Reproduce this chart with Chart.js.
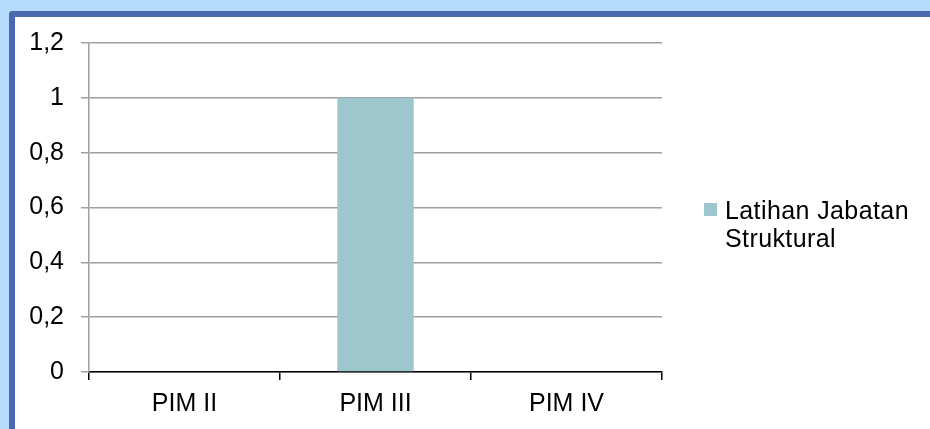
<!DOCTYPE html>
<html>
<head>
<meta charset="utf-8">
<script src="https://cdn.jsdelivr.net/npm/chart.js@4.4.0/dist/chart.umd.min.js"></script>
<style>
  html, body { margin: 0; padding: 0; }
  body { width: 930px; height: 429px; overflow: hidden; position: relative; background: #b5dcfc; font-family: "Liberation Sans", Arial, sans-serif; }
  #frame { position: absolute; left: 9px; top: 11px; width: 940px; height: 440px; background: #ffffff;
           border-left: 6px solid #4b68b1; border-top: 6px solid #4b68b1; border-top-left-radius: 4px; }
  #wrap { position: absolute; left: 0; top: 0; width: 930px; height: 429px; }
  #legend { position: absolute; left: 704px; top: 196px; width: 224px; color: #000; }
  .item { position: relative; padding-left: 21px; font-size: 25px; line-height: 28px; letter-spacing: 0.4px; }
  .sw { position: absolute; left: 0; top: 7px; width: 13px; height: 13px; }
</style>
</head>
<body>
<div id="frame"></div>
<div id="wrap"><canvas id="c" width="930" height="429"></canvas></div>
<div id="legend"></div>
<script>
const categories = ['PIM II', 'PIM III', 'PIM IV'];
const seriesLabel = 'Latihan Jabatan Struktural';
const seriesValues = [0, 1, 0];
const yTickLabels = ['0', '0,2', '0,4', '0,6', '0,8', '1', '1,2'];
const barColor = '#9dc6cd';

const chart = new Chart(document.getElementById('c'), {
  type: 'bar',
  data: {
    labels: categories,
    datasets: [{
      label: seriesLabel,
      data: seriesValues,
      backgroundColor: barColor,
      borderWidth: 0,
      categoryPercentage: 1,
      barPercentage: 0.4
    }]
  },
  options: {
    responsive: false,
    animation: false,
    devicePixelRatio: 1,
    layout: { padding: { left: 0, right: 268, top: 43, bottom: 0 } },
    plugins: { legend: { display: false }, tooltip: { enabled: false } },
    scales: {
      x: {
        afterFit: s => { s.height = 57; },
        grid: { drawOnChartArea: false, drawTicks: true, tickLength: 8, color: '#000000', lineWidth: 1.5 },
        border: { color: '#000000', width: 1.5 },
        ticks: { color: '#000000', font: { family: '"Liberation Sans", Arial', size: 25 }, padding: 9, maxRotation: 0 }
      },
      y: {
        min: 0, max: 1.2,
        afterFit: s => { s.width = 89; },
        grid: { color: '#a0a0a0', lineWidth: 1.5, tickLength: 8 },
        border: { color: '#a0a0a0', width: 1.5 },
        ticks: {
          stepSize: 0.2,
          color: '#000000',
          padding: 17,
          font: { family: '"Liberation Sans", Arial', size: 25 },
          callback: (v, i) => yTickLabels[i]
        }
      }
    }
  }
});

const lg = document.getElementById('legend');
chart.data.datasets.forEach(ds => {
  const it = document.createElement('div');
  it.className = 'item';
  const sw = document.createElement('span');
  sw.className = 'sw';
  sw.style.background = ds.backgroundColor;
  it.appendChild(sw);
  it.appendChild(document.createTextNode(ds.label));
  lg.appendChild(it);
});
</script>
</body>
</html>
